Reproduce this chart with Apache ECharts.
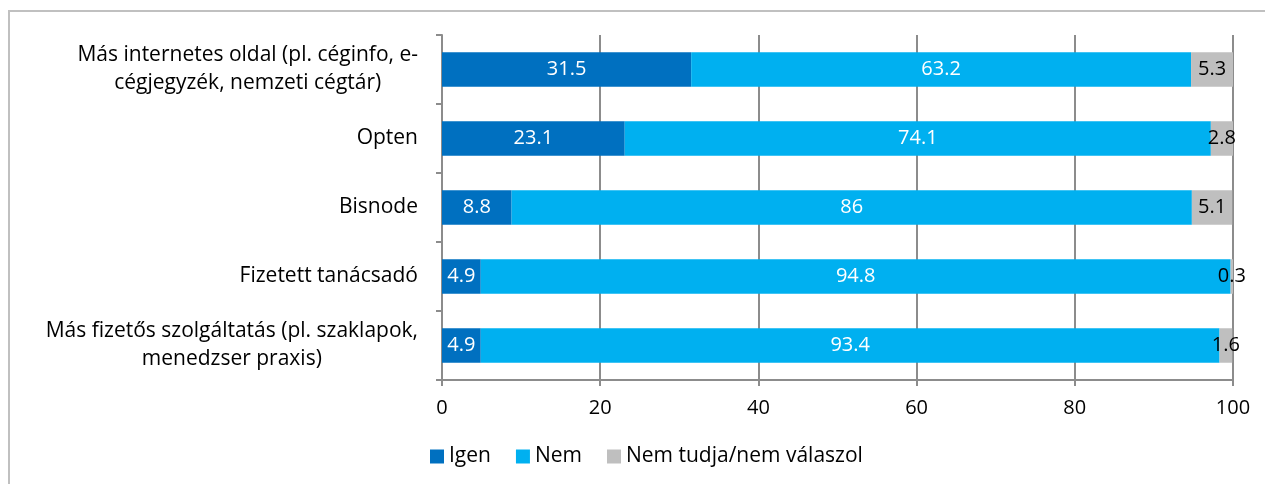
<!DOCTYPE html>
<html>
<head>
<meta charset="utf-8">
<script src="https://cdn.jsdelivr.net/npm/echarts@6/dist/echarts.min.js"></script>
<style>
  html, body { margin: 0; padding: 0; background: #fff; }
  #chart { width: 1265px; height: 484px; }
</style>
</head>
<body>
<div id="chart"></div>
<script>
// adatok
const categories = [
  'Más internetes oldal (pl. céginfo, e-\ncégjegyzék, nemzeti cégtár)',
  'Opten',
  'Bisnode',
  'Fizetett tanácsadó',
  'Más fizetős szolgáltatás (pl. szaklapok,\nmenedzser praxis)'
];
const igen = [31.5, 23.1, 8.8, 4.9, 4.9];
const nem = [63.2, 74.1, 86, 94.8, 93.4];
const nemTudja = [5.3, 2.8, 5.1, 0.3, 1.6];
const seriesNames = ['Igen', 'Nem', 'Nem tudja/nem válaszol'];
const xTicks = [0, 20, 40, 60, 80, 100];

const font = '"Open Sans", sans-serif';
const fs = 20;
const axisColor = '#8c8c8c';

let myChart = echarts.init(document.getElementById('chart'));

function barSeries(name, data, color, labelColor) {
  return {
    name: name,
    type: 'bar',
    stack: 'total',
    barWidth: '50%',
    data: data,
    itemStyle: { color: color },
    label: {
      show: true,
      position: 'inside',
      color: labelColor,
      fontFamily: font,
      fontSize: fs
    }
  };
}

let options = {
  animation: false,
  textStyle: { fontFamily: font },
  graphic: [{
    type: 'rect',
    shape: { x: 9, y: 11, width: 1400, height: 600 },
    style: { fill: 'none', stroke: '#c0c0c0', lineWidth: 2 },
    silent: true
  }],
  grid: { left: 442, right: 32, top: 35, bottom: 104, containLabel: false },
  legend: {
    left: 425,
    top: 441,
    itemWidth: 14,
    itemHeight: 14,
    itemGap: 25,
    icon: 'rect',
    textStyle: { fontFamily: font, fontSize: 21, color: '#000' },
    data: seriesNames
  },
  xAxis: {
    type: 'value',
    min: xTicks[0],
    max: xTicks[xTicks.length - 1],
    interval: 20,
    axisLine: { show: true, lineStyle: { color: axisColor, width: 2 } },
    axisTick: { show: true, length: 6, lineStyle: { color: axisColor, width: 2 } },
    splitLine: { show: true, lineStyle: { color: axisColor, width: 2 } },
    axisLabel: { color: '#000', fontFamily: font, fontSize: fs, margin: 18 }
  },
  yAxis: {
    type: 'category',
    inverse: true,
    data: categories,
    axisLine: { show: true, lineStyle: { color: axisColor, width: 2 } },
    axisTick: { show: true, length: 6, lineStyle: { color: axisColor, width: 2 } },
    axisLabel: {
      color: '#000',
      fontFamily: font,
      fontSize: 21,
      lineHeight: 28,
      margin: 24,
      align: 'right',
      formatter: function (v) {
        return v.split('\n').map(function (s) { return '{c|' + s + '}'; }).join('\n');
      },
      rich: {
        c: { align: 'center', fontFamily: font, fontSize: 21, lineHeight: 28, color: '#000' }
      }
    }
  },
  series: [
    barSeries(seriesNames[0], igen, '#0070c0', '#fff'),
    barSeries(seriesNames[1], nem, '#00b0f0', '#fff'),
    barSeries(seriesNames[2], nemTudja, '#bfbfbf', '#000')
  ]
};
myChart.setOption(options);
</script>
</body>
</html>
